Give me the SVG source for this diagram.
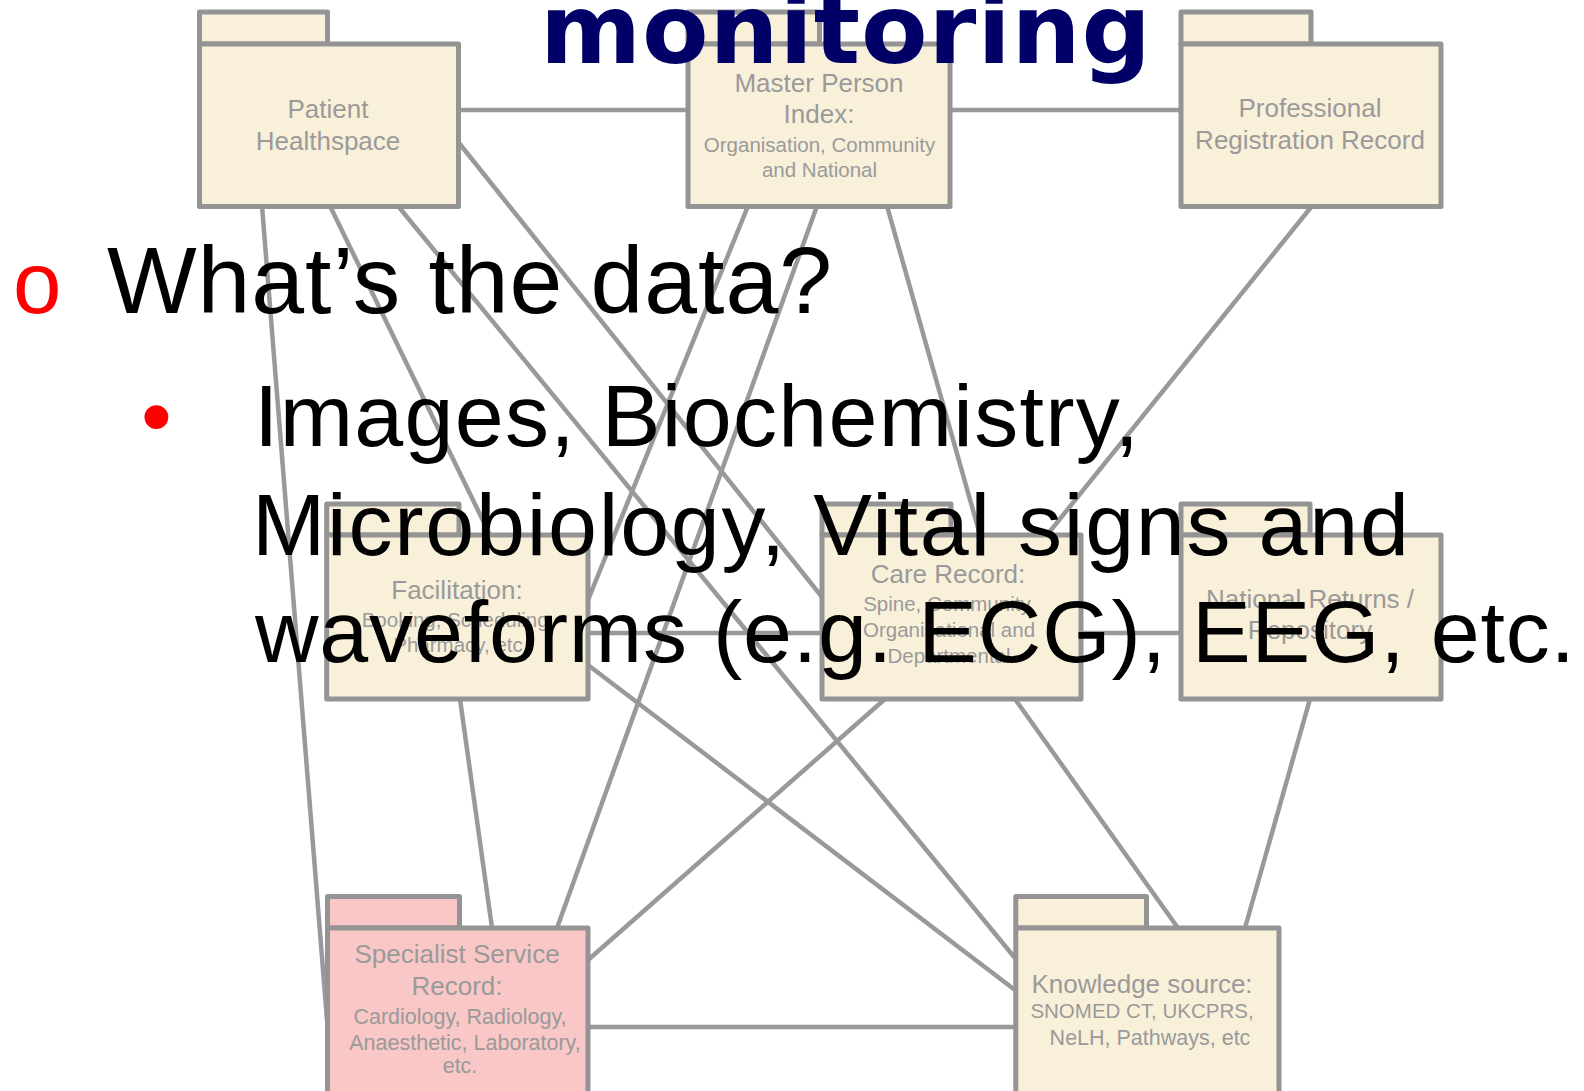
<svg xmlns="http://www.w3.org/2000/svg" width="1584" height="1091" viewBox="0 0 1584 1091">
  <defs>
    <style>
      .box { fill: #f9f0da; stroke: #949494; stroke-width: 5; stroke-linejoin: round; }
      .box.pink { fill: #f8c7c6; }
      .wire { stroke: #999999; stroke-width: 4.5; fill: none; stroke-linecap: butt; }
      .lbl { font-family: "Liberation Sans", Arial, sans-serif; font-size: 26px; fill: #9a9a9a; text-anchor: middle; }
      .sub { font-size: 20.5px; }
      .sub2 { font-size: 21.5px; }
      .title { font-family: "DejaVu Sans", Verdana, sans-serif; font-weight: bold; font-size: 97px; fill: #000066; }
      .big { font-family: "Liberation Sans", Arial, sans-serif; fill: #000000; }
      .red { fill: #ff0000; }
    </style>
  </defs>
  <rect width="1584" height="1091" fill="#ffffff"/>

  <!-- connectors between the packages -->
  <g id="connectors">
    <line class="wire" x1="459" y1="110" x2="688" y2="110"/>
    <line class="wire" x1="950" y1="110" x2="1181" y2="110"/>
    <line class="wire" x1="262" y1="206" x2="327" y2="1020"/>
    <line class="wire" x1="330" y1="206" x2="490" y2="535"/>
    <line class="wire" x1="398" y1="206" x2="1015" y2="958"/>
    <line class="wire" x1="459" y1="143" x2="822" y2="597"/>
    <line class="wire" x1="748" y1="206" x2="588" y2="600"/>
    <line class="wire" x1="817" y1="206" x2="557" y2="928"/>
    <line class="wire" x1="887" y1="206" x2="980" y2="535"/>
    <line class="wire" x1="1312" y1="206" x2="1047" y2="535"/>
    <line class="wire" x1="588" y1="633" x2="822" y2="633"/>
    <line class="wire" x1="1081" y1="633" x2="1181" y2="633"/>
    <line class="wire" x1="460" y1="699" x2="492" y2="928"/>
    <line class="wire" x1="885" y1="699" x2="588" y2="960"/>
    <line class="wire" x1="1015" y1="699" x2="1178" y2="928"/>
    <line class="wire" x1="1310" y1="699" x2="1245" y2="928"/>
    <line class="wire" x1="588" y1="665" x2="1015" y2="990"/>
    <line class="wire" x1="588" y1="1027" x2="1015" y2="1027"/>
  </g>

  <!-- package nodes: tab + body -->
  <g id="patient-healthspace">
    <rect class="box" x="199.5" y="12" width="128" height="32"/>
    <rect class="box" x="199.5" y="44" width="259" height="162.5"/>
    <text class="lbl" x="328" y="118">Patient</text>
    <text class="lbl" x="328" y="150">Healthspace</text>
  </g>

  <g id="master-person-index">
    <rect class="box" x="688" y="12" width="131.5" height="32"/>
    <rect class="box" x="688" y="44" width="262" height="162.5"/>
    <text class="lbl" x="819" y="92">Master Person</text>
    <text class="lbl" x="819" y="123">Index:</text>
    <text class="lbl sub" x="819.5" y="152">Organisation, Community</text>
    <text class="lbl sub" x="819.5" y="177">and National</text>
  </g>

  <g id="professional-registration">
    <rect class="box" x="1181" y="12" width="130" height="32"/>
    <rect class="box" x="1181" y="44" width="260" height="162.5"/>
    <text class="lbl" x="1310" y="117">Professional</text>
    <text class="lbl" x="1310" y="149">Registration Record</text>
  </g>

  <g id="facilitation">
    <rect class="box" x="326.7" y="504" width="132.3" height="31"/>
    <rect class="box" x="326.7" y="535" width="261.3" height="164"/>
    <text class="lbl" x="457" y="599">Facilitation:</text>
    <text class="lbl sub" x="458" y="627">Booking, Scheduling,</text>
    <text class="lbl sub" x="458" y="652">Pharmacy, etc</text>
  </g>

  <g id="care-record">
    <rect class="box" x="822" y="504" width="129" height="31"/>
    <rect class="box" x="822" y="535" width="259" height="164"/>
    <text class="lbl" x="948" y="583">Care Record:</text>
    <text class="lbl sub" x="949" y="611">Spine, Community,</text>
    <text class="lbl sub" x="949" y="637">Organisational and</text>
    <text class="lbl sub" x="949" y="663">Departmental</text>
  </g>

  <g id="national-returns">
    <rect class="box" x="1181" y="504" width="129" height="31"/>
    <rect class="box" x="1181" y="535" width="260" height="164"/>
    <text class="lbl" x="1310" y="608">National Returns /</text>
    <text class="lbl" x="1310" y="639">Repository</text>
  </g>

  <g id="specialist-service-record">
    <rect class="box pink" x="327.5" y="896.5" width="132" height="31.5"/>
    <rect class="box pink" x="327.5" y="928" width="260.5" height="180"/>
    <text class="lbl" x="457" y="963">Specialist Service</text>
    <text class="lbl" x="457" y="995">Record:</text>
    <text class="lbl sub2" x="460" y="1024">Cardiology, Radiology,</text>
    <text class="lbl sub2" x="465" y="1050">Anaesthetic, Laboratory,</text>
    <text class="lbl sub2" x="460" y="1073">etc.</text>
  </g>

  <g id="knowledge-source">
    <rect class="box" x="1015.8" y="896.5" width="130.7" height="31.5"/>
    <rect class="box" x="1015.8" y="928" width="263.2" height="180"/>
    <text class="lbl" x="1142" y="993">Knowledge source:</text>
    <text class="lbl sub" x="1142" y="1018">SNOMED CT, UKCPRS,</text>
    <text class="lbl sub2" x="1150" y="1045">NeLH, Pathways, etc</text>
  </g>

  <!-- heading and bullet text laid over the diagram -->
  <text class="title" x="540" y="63" textLength="611">monitoring</text>

  <text class="big red" x="13" y="313" font-size="87">o</text>
  <text class="big" x="107" y="313" font-size="95" textLength="725">What’s the data?</text>

  <text class="big red" x="141" y="446" font-size="88">•</text>
  <text class="big" x="254" y="446" font-size="88" textLength="885">Images, Biochemistry,</text>
  <text class="big" x="252" y="555" font-size="88" textLength="1157">Microbiology, Vital signs and</text>
  <text class="big" x="255" y="662" font-size="88" textLength="1320">waveforms (e.g. ECG), EEG, etc.</text>
</svg>
